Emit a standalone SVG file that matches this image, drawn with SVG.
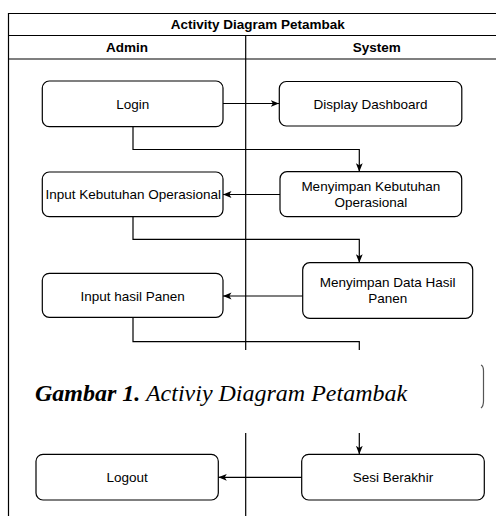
<svg xmlns="http://www.w3.org/2000/svg" width="496" height="516" viewBox="0 0 496 516">
<style>
.frame{fill:none;stroke:#000;stroke-width:1.2}
.node rect{fill:#fff;stroke:#000;stroke-width:1.2}
.lbl{font-family:"Liberation Sans",Arial,sans-serif;font-size:13.5px;fill:#000;text-anchor:middle}
.hdr{font-family:"Liberation Sans",Arial,sans-serif;font-size:13.5px;font-weight:bold;fill:#000;text-anchor:middle}
.conn path{fill:none;stroke:#000;stroke-width:1.2;marker-end:url(#arr)}
.cap{font-family:"Liberation Serif","Times New Roman",serif;font-size:24px;font-style:italic;fill:#000}
</style>
<defs>
<marker id="arr" markerUnits="userSpaceOnUse" markerWidth="8.5" markerHeight="8.5" viewBox="0 0 10 10" refX="10" refY="5" orient="auto">
<path d="M0,1 L10,5 L0,9 L2.5,5 Z" fill="#000"/>
</marker>
</defs>
<rect width="496" height="516" fill="#fff"/>
<g id="pool">
<path class="frame" d="M8.5,516 V13.5 H496 M8.5,35.5 H496 M8.5,59 H496 M245.7,35.5 V350 M245.7,433 V516"/>
<text class="hdr" x="257.8" y="29.2">Activity Diagram Petambak</text>
<text class="hdr" x="127.1" y="52">Admin</text>
<text class="hdr" x="376.7" y="52">System</text>
</g>
<g id="login" class="node"><rect x="42.3" y="81" width="180.7" height="45.7" rx="7"/><text class="lbl" x="132.7" y="108.5">Login</text></g>
<g id="display-dashboard" class="node"><rect x="279.3" y="81.5" width="182.5" height="44.5" rx="7"/><text class="lbl" x="370.5" y="108.5">Display Dashboard</text></g>
<g id="menyimpan-kebutuhan" class="node"><rect x="280" y="171.7" width="181.7" height="45" rx="7"/><text class="lbl" x="370.8" y="190.7">Menyimpan Kebutuhan</text><text class="lbl" x="370.8" y="206.8">Operasional</text></g>
<g id="input-kebutuhan" class="node"><rect x="42.3" y="172" width="180.7" height="44.7" rx="7"/><text class="lbl" x="133.3" y="199.2">Input Kebutuhan Operasional</text></g>
<g id="menyimpan-data" class="node"><rect x="302.7" y="262.7" width="170" height="55.6" rx="7"/><text class="lbl" x="387.7" y="286.8">Menyimpan Data Hasil</text><text class="lbl" x="387.7" y="302.9">Panen</text></g>
<g id="input-hasil" class="node"><rect x="42.3" y="273.3" width="180.7" height="44" rx="7"/><text class="lbl" x="132.7" y="300.5">Input hasil Panen</text></g>
<g id="sesi-berakhir" class="node"><rect x="301.7" y="454.3" width="182.6" height="45.7" rx="7"/><text class="lbl" x="393" y="481.8">Sesi Berakhir</text></g>
<g id="logout" class="node"><rect x="36" y="454.3" width="182.3" height="45.7" rx="7"/><text class="lbl" x="127.2" y="481.8">Logout</text></g>
<g id="connectors" class="conn">
<path d="M223,103.5 H279.3"/>
<path d="M133,126.7 V149.5 H359.3 V171.7"/>
<path d="M280,194.5 H223"/>
<path d="M133,216.7 V239.3 H359.3 V262.7"/>
<path d="M302.7,296 H223"/>
<path d="M133,317.3 V341.7 H359.3 V350 M359.3,433 V454.3"/>
<path d="M301.7,477.3 H218.3"/>
</g>
<g id="caption">
<text class="cap" x="35" y="401"><tspan font-weight="bold">Gambar 1.</tspan> Activiy Diagram Petambak</text>
<path d="M481,365 Q483.5,366 483.5,371 V401 Q483.5,406 481,408" fill="none" stroke="#555" stroke-width="1.2"/>
</g>
</svg>
